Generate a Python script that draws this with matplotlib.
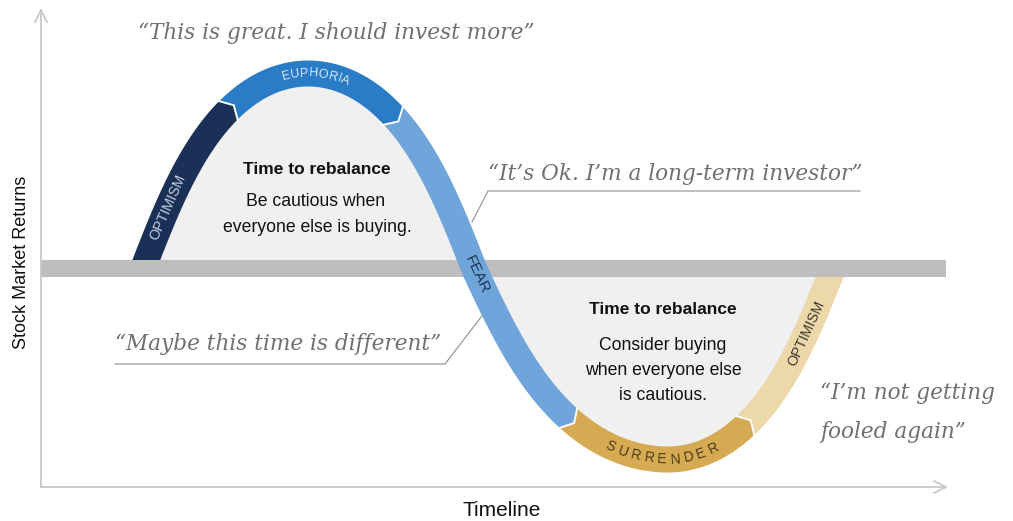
import numpy as np
import matplotlib
matplotlib.use("Agg")
import matplotlib.pyplot as plt
from matplotlib.patches import Polygon, Rectangle
from matplotlib.textpath import TextToPath
from matplotlib.font_manager import FontProperties, findfont

# ---------------- data ----------------
# market cycle key points on the timeline: start, peak, crossing, trough, end
CYCLE_T = [143, 308, 474, 668, 833]
CYCLE_R = [0, 195, 0, -191, 0]
PHASES = ["OPTIMISM", "EUPHORIA", "FEAR", "SURRENDER", "OPTIMISM"]
PHASE_COLORS = ["#1a3057", "#2b7cc6", "#6fa5da", "#d5aa52", "#ecd8a8"]
PHASE_TEXT_COLORS = ["#c3cddd", "#d8eaf8", "#1d3550", "#4a3a1c", "#3b3833"]
PHASE_BOUNDS_T = [228, 393, 568, 745]      # hand-over points between phases
LABEL_T = [168, 316, 477, 662, 806]        # where each phase name sits

QUOTES = ["\u201cThis is great. I should invest more\u201d",
          "\u201cIt\u2019s Ok. I\u2019m a long-term investor\u201d",
          "\u201cMaybe this time is different\u201d",
          "\u201cI\u2019m not getting\nfooled again\u201d"]
ADVICE_TITLE = "Time to rebalance"
ADVICE_TOP = ["Be cautious when", "everyone else is buying."]
ADVICE_BOTTOM = ["Consider buying", "when everyone else", "is cautious."]

# ---------------- style ----------------
DPI = 100
W_PX, H_PX = 1013, 521
AX_L, AX_R, AX_TOP, AX_BOT = 41, 946, 10, 487
BAND_Y = 268.5
E = 0.14          # shape: fuller domes, steeper flanks
RIB = 26          # ribbon width (px)
NOTCH = 8


def has_font(name):
    try:
        findfont(FontProperties(family=name), fallback_to_default=False)
        return True
    except Exception:
        return False


HAS_NARROW = has_font("Liberation Sans Narrow")
NARROW = "Liberation Sans Narrow" if HAS_NARROW else "Liberation Sans"
K = 1.0 if HAS_NARROW else 0.86   # size factor when only the normal width exists
SANS = "Liberation Sans"
SERIF = "DejaVu Serif"

fig = plt.figure(figsize=(W_PX / DPI, H_PX / DPI), dpi=DPI)
ax = fig.add_axes([AX_L / W_PX, (H_PX - AX_BOT) / H_PX,
                   (AX_R - AX_L) / W_PX, (AX_BOT - AX_TOP) / H_PX])
ax.set_xlim(AX_L, AX_R)
ax.set_ylim(BAND_Y - AX_BOT, BAND_Y - AX_TOP)
ax.set_xticks([])
ax.set_yticks([])
for sp in ["top", "right"]:
    ax.spines[sp].set_visible(False)
for sp in ["left", "bottom"]:
    ax.spines[sp].set_color("#c8c8c8")
    ax.spines[sp].set_linewidth(1.3)


def py(v):  # pixel row -> data y
    return BAND_Y - v


# axis arrowheads
ytop = py(AX_TOP)
ax.plot([AX_L - 6, AX_L, AX_L + 6], [ytop - 12, ytop, ytop - 12], color="#c8c8c8",
        lw=1.3, clip_on=False, solid_joinstyle="miter")
ybot = py(AX_BOT)
ax.plot([AX_R - 12, AX_R, AX_R - 12], [ybot + 6, ybot, ybot - 6], color="#c8c8c8",
        lw=1.3, clip_on=False, solid_joinstyle="miter")

# ---------------- curve ----------------
xs, rs = [], []
for i in range(4):
    xa, ra, xb, rb = CYCLE_T[i], CYCLE_R[i], CYCLE_T[i + 1], CYCLE_R[i + 1]
    phi = np.linspace(0, np.pi / 2, 400)
    g = (phi - E * np.sin(2 * phi)) / (np.pi / 2)
    if ra == 0:
        x = xa + (xb - xa) * g
        r = rb * np.sin(phi)
    else:
        x = xb - (xb - xa) * g
        r = ra * np.sin(phi)
        x, r = x[::-1], r[::-1]
    if i > 0:
        x, r = x[1:], r[1:]
    xs.append(x)
    rs.append(r)
cx = np.concatenate(xs)
cr = np.concatenate(rs)
s = np.concatenate([[0], np.cumsum(np.hypot(np.diff(cx), np.diff(cr)))])
tx = np.gradient(cx, s)
ty = np.gradient(cr, s)
tn = np.hypot(tx, ty)
tx, ty = tx / tn, ty / tn
nx, ny = -ty, tx


def at(sq):
    X = np.interp(sq, s, cx)
    Y = np.interp(sq, s, cr)
    NX = np.interp(sq, s, nx)
    NY = np.interp(sq, s, ny)
    nn = np.hypot(NX, NY)
    return X, Y, NX / nn, NY / nn


# light fill inside the lobes
ax.fill_between(cx, cr, 0, color="#f0f0f0", lw=0, zorder=0.5)

# horizontal band
ax.add_patch(Rectangle((AX_L, -8.5), AX_R - AX_L, 17, color="#bebebe", lw=0, zorder=2))

# ribbon segments
sb = list(np.interp(PHASE_BOUNDS_T, cx, s))
edges = [0.0] + sb + [s[-1]]
for k in range(5):
    s0, s1 = edges[k], edges[k + 1]
    ss = np.linspace(s0, s1, 300)
    X, Y, NX, NY = at(ss)
    L = np.column_stack([X + NX * RIB / 2, Y + NY * RIB / 2])
    R = np.column_stack([X - NX * RIB / 2, Y - NY * RIB / 2])
    pts = [L]
    if k < 4:
        Xt, Yt, _, _ = at(s1 + NOTCH)
        pts.append([[Xt, Yt]])
    pts.append(R[::-1])
    if k > 0:
        Xn, Yn, _, _ = at(s0 + NOTCH)
        pts.append([[Xn, Yn]])
    z = 1 if k in (0, 4) else 3
    ax.add_patch(Polygon(np.vstack(pts), closed=True, fc=PHASE_COLORS[k], ec="none", zorder=z))

# white chevrons between phases
for b in sb:
    X, Y, NX, NY = at(b)
    Xt, Yt, _, _ = at(b + NOTCH)
    h = RIB / 2 + 1
    ax.plot([X + NX * h, Xt, X - NX * h], [Y + NY * h, Yt, Y - NY * h], color="white",
            lw=1.4, zorder=3.5, solid_joinstyle="miter")

# phase names along the ribbon
t2p = TextToPath()
LABEL_SIZE = [10.3, 9, 11, 10, 10.3]
LABEL_TRACK = [0, 0.5, 0, 3.5, 0]
LABEL_CURVED = [False, True, False, True, False]


def adv(ch, fp):
    w1 = t2p.get_text_width_height_descent("H" + ch + "H", fp, ismath=False)[0]
    w0 = t2p.get_text_width_height_descent("HH", fp, ismath=False)[0]
    return (w1 - w0) * DPI / 72


def tangent_deg(NX, NY):
    return np.degrees(np.arctan2(-NX, NY))  # tangent direction = (NY, -NX)


for k, name in enumerate(PHASES):
    fp = FontProperties(family=SANS, size=LABEL_SIZE[k])
    sc = np.interp(LABEL_T[k], cx, s)
    if not LABEL_CURVED[k]:
        X, Y, NX, NY = at(sc)
        ax.text(X, Y, name, fontproperties=fp, color=PHASE_TEXT_COLORS[k],
                rotation=tangent_deg(NX, NY), rotation_mode="anchor",
                ha="center", va="center", zorder=5)
        continue
    widths = [adv(c, fp) for c in name]
    tr = LABEL_TRACK[k]
    total = sum(widths) + tr * (len(name) - 1)
    pos = sc - total / 2
    for c, w in zip(name, widths):
        X, Y, NX, NY = at(pos + w / 2)
        ax.text(X, Y, c, fontproperties=fp, color=PHASE_TEXT_COLORS[k],
                rotation=tangent_deg(NX, NY), rotation_mode="anchor",
                ha="center", va="center", zorder=5)
        pos += w + tr

# ---------------- texts ----------------
qcol = "#707070"
qfs = 15.6
ax.text(336, py(33), QUOTES[0], family=SERIF, style="italic", fontsize=qfs, color=qcol,
        ha="center", va="center", clip_on=False)
ax.text(488, py(174), QUOTES[1], family=SERIF, style="italic", fontsize=qfs, color=qcol,
        ha="left", va="center")
ax.text(441, py(344), QUOTES[2], family=SERIF, style="italic", fontsize=qfs, color=qcol,
        ha="right", va="center")
for i, line in enumerate(QUOTES[3].split("\n")):
    ax.text(820, py(393 + 39 * i), line, family=SERIF, style="italic", fontsize=qfs,
            color=qcol, ha="left", va="center", clip_on=False)

lcol = "#9a9a9a"
ax.plot([860, 488, 472], [py(191), py(191), py(222)], color=lcol, lw=0.9, zorder=2.5)
ax.plot([115, 445, 488], [py(364), py(364), py(308)], color=lcol, lw=0.9, zorder=2.5)

tcol = "#111111"
tfs = 14.5 * K
bfs = 14.8 * K
ax.text(317, py(170), ADVICE_TITLE, family=NARROW, weight="bold", fontsize=tfs, color=tcol,
        ha="center", va="center", zorder=6)
ax.text(316, py(202), ADVICE_TOP[0], family=NARROW, fontsize=bfs, color=tcol,
        ha="center", va="center", zorder=6)
ax.text(317, py(228), ADVICE_TOP[1], family=NARROW, fontsize=bfs, color=tcol,
        ha="center", va="center", zorder=6)
ax.text(663, py(310), ADVICE_TITLE, family=NARROW, weight="bold", fontsize=tfs, color=tcol,
        ha="center", va="center", zorder=6)
for i, line in enumerate(ADVICE_BOTTOM):
    ax.text(663, py(345 + 25.5 * i), line, family=NARROW, fontsize=bfs, color=tcol,
            ha="center", va="center", zorder=6)

ax.text(502, py(510), "Timeline", family=SANS, fontsize=15, color="#111111",
        ha="center", va="center", clip_on=False)
ax.text(22, py(262), "Stock Market Returns", family=SANS, fontsize=13, color="#111111",
        ha="center", va="center", rotation=90, clip_on=False)

fig.savefig("out.png", dpi=DPI, facecolor="white")
